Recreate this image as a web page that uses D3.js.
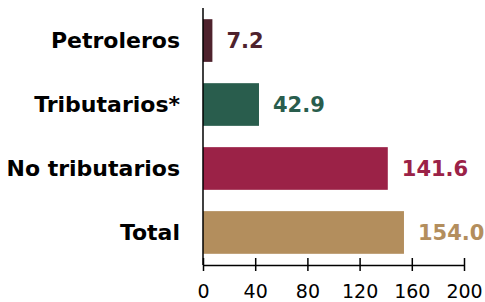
<!DOCTYPE html>
<html>
<head>
<meta charset="utf-8">
<script src="https://cdn.jsdelivr.net/npm/d3@7"></script>
<style>
  body { margin: 0; background: white; }
  svg { display: block; }
</style>
</head>
<body>
<div id="chart"></div>
<script>
const categories = ["Petroleros", "Tributarios*", "No tributarios", "Total"];
const values = [7.2, 42.9, 141.6, 154.0];
const colors = ["#4e222d", "#295d4d", "#9b2247", "#b38e5d"];
const tickValues = [0, 40, 80, 120, 160, 200];

const width = 485;
const height = 302;
const labelFont = "'DejaVu Sans', sans-serif";

const x = d3.scaleLinear()
  .domain([0, 200])
  .range([203, 464]);

const y = d3.scaleBand()
  .domain(categories)
  .range([8, 265])
  .paddingInner(0.333)
  .paddingOuter(0.175);

const svg = d3.select("#chart")
  .append("svg")
  .attr("width", width)
  .attr("height", height);

// bars
svg.selectAll("rect.bar")
  .data(values)
  .enter()
  .append("rect")
  .attr("class", "bar")
  .attr("x", x(0))
  .attr("y", (d, i) => y(categories[i]))
  .attr("width", d => x(d) - x(0))
  .attr("height", y.bandwidth())
  .attr("fill", (d, i) => colors[i]);

// value labels
svg.selectAll("text.value")
  .data(values)
  .enter()
  .append("text")
  .attr("class", "value")
  .text(d => d.toFixed(1))
  .attr("x", d => x(d) + 14)
  .attr("y", (d, i) => y(categories[i]) + y.bandwidth() / 2)
  .attr("dy", "0.36em")
  .attr("fill", (d, i) => colors[i])
  .style("font-family", labelFont)
  .style("font-size", "21px")
  .style("font-weight", "700");

// category labels
svg.selectAll("text.cat")
  .data(categories)
  .enter()
  .append("text")
  .attr("class", "cat")
  .text(d => d)
  .attr("x", 180)
  .attr("y", d => y(d) + y.bandwidth() / 2)
  .attr("dy", "0.36em")
  .attr("text-anchor", "end")
  .attr("fill", "#000")
  .style("font-family", labelFont)
  .style("font-size", "22px")
  .style("font-weight", "700");

// vertical axis line
svg.append("line")
  .attr("x1", x(0))
  .attr("x2", x(0))
  .attr("y1", 8)
  .attr("y2", 265)
  .attr("stroke", "#000")
  .attr("stroke-width", 1.5);

// x axis
const xAxis = svg.append("g")
  .attr("transform", "translate(0,265)")
  .call(d3.axisBottom(x).tickValues(tickValues).tickSize(6).tickSizeOuter(0));

xAxis.select(".domain")
  .attr("stroke-width", 1.5);

xAxis.selectAll(".tick line")
  .attr("y1", -7)
  .attr("y2", 6)
  .attr("stroke-width", 1.5);

xAxis.selectAll(".tick text")
  .attr("y", 20)
  .attr("fill", "#000")
  .style("font-family", labelFont)
  .style("font-size", "19px")
  .style("font-weight", "400");
</script>
</body>
</html>
